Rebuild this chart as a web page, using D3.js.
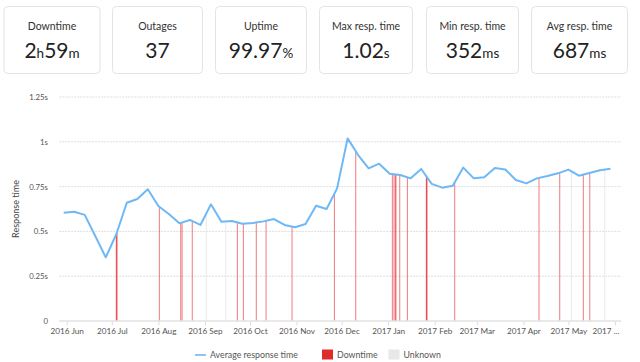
<!DOCTYPE html>
<html><head><meta charset="utf-8">
<script src="https://cdn.jsdelivr.net/npm/d3@7"></script>
<style>
html,body{margin:0;padding:0;background:#fff;}
svg{display:block;font-family:Lato,"Open Sans",sans-serif;}
</style></head>
<body>
<svg id="chart" width="640" height="362"></svg>
<script>
// ---- data ----
const statTitles = ["Downtime","Outages","Uptime","Max resp. time","Min resp. time","Avg resp. time"];
const statValues = [[["2","b"],["h","s"],["59","b"],["m","s"]],[["37","b"]],[["99.97","b"],["%","s"]],[["1.02","b"],["s","s"]],[["352","b"],["ms","s"]],[["687","b"],["ms","s"]]];

const weeks = ["2016-05-30","2016-06-06","2016-06-13","2016-06-20","2016-06-27","2016-07-04","2016-07-11","2016-07-18","2016-07-25",
"2016-08-01","2016-08-08","2016-08-15","2016-08-22","2016-08-29","2016-09-05","2016-09-12","2016-09-19","2016-09-26",
"2016-10-03","2016-10-10","2016-10-17","2016-10-24","2016-10-31","2016-11-07","2016-11-14","2016-11-21","2016-11-28",
"2016-12-05","2016-12-12","2016-12-19","2016-12-26","2017-01-02","2017-01-09","2017-01-16","2017-01-23","2017-01-30",
"2017-02-06","2017-02-13","2017-02-20","2017-02-27","2017-03-06","2017-03-13","2017-03-20","2017-03-27",
"2017-04-03","2017-04-10","2017-04-17","2017-04-24","2017-05-01","2017-05-08","2017-05-15","2017-05-22","2017-05-29"];
const avgResponse = [0.604,0.610,0.592,0.474,0.355,0.484,0.660,0.681,0.735,0.642,0.597,0.545,0.564,0.536,
0.651,0.554,0.558,0.543,0.547,0.556,0.569,0.536,0.523,0.541,0.643,0.625,0.740,
1.019,0.926,0.852,0.878,0.822,0.815,0.796,0.848,0.765,0.744,0.755,0.856,0.796,
0.802,0.854,0.845,0.787,0.768,0.796,0.809,0.824,0.845,0.811,0.826,0.841,0.850];

const downtimeEvents = ["2016-07-04T00:00","2016-07-04T06:00","2016-07-04T12:00","2016-08-01T16:00","2016-08-15T22:00",
"2016-08-16T19:00","2016-08-23T14:00","2016-09-22T14:00","2016-09-26T14:00","2016-10-05T05:00","2016-10-11T17:00",
"2016-10-29T00:00","2016-11-26T05:00","2016-12-10T10:00","2017-01-03T19:00","2017-01-04T22:00","2017-01-06T00:00",
"2017-01-06T02:00","2017-01-08T17:00","2017-01-13T19:00","2017-01-26T10:00","2017-01-26T12:00","2017-01-26T22:00",
"2017-02-14T07:00","2017-04-11T10:00","2017-04-25T05:00","2017-05-10T22:00","2017-05-15T05:00"];
const unknownEvents = ["2016-09-01T22:00","2016-09-14T22:00","2017-05-03T00:00","2017-05-25T05:00"];

const yTicks = [0,0.25,0.5,0.75,1,1.25];
const yTickLabels = ["0","0.25s","0.5s","0.75s","1s","1.25s"];
const legendLabels = ["Average response time","Downtime","Unknown"];

// ---- drawing ----
const svg = d3.select("#chart");
const pDay = d3.timeParse("%Y-%m-%d"), pTime = d3.timeParse("%Y-%m-%dT%H:%M");
const series = weeks.map((w,i)=>({date:pDay(w), v:avgResponse[i]}));

// stat cards
const cardX = [3.5,112,215,319,426,531], cardW = [96,90,91,93,92,96];
const cards = svg.append("g");
statTitles.forEach((t,i)=>{
  const g = cards.append("g").attr("transform",`translate(${cardX[i]},6)`);
  g.append("rect").attr("x",0.5).attr("y",0.5).attr("width",cardW[i]).attr("height",67).attr("rx",4)
   .attr("fill","#fff").attr("stroke","#e4e4e4");
  g.append("text").attr("x",cardW[i]/2+0.5).attr("y",24).attr("text-anchor","middle")
   .attr("font-size",10.5).attr("fill","#333").text(t);
  const tx = g.append("text").attr("x",cardW[i]/2+0.5).attr("y",51.5).attr("text-anchor","middle").attr("fill","#222");
  statValues[i].forEach(([s,k])=>{
    tx.append("tspan").attr("font-size",k==="b"?21:13.5).text(s);
  });
});

const x = d3.scaleTime().domain([pDay("2016-05-27"),pDay("2017-06-05")]).range([59.2,621]);
const y = d3.scaleLinear().domain([0,1.25]).range([321,97]);

// gridlines
const grid = svg.append("g");
yTicks.forEach(t=>{
  if(t===0) return;
  grid.append("line").attr("x1",59.2).attr("x2",621).attr("y1",y(t)).attr("y2",y(t))
    .attr("stroke","#dedede").attr("stroke-width",1).attr("stroke-dasharray","2,1");
});

// interpolation of the line at a date
const bis = d3.bisector(d=>d.date).left;
function valAt(d){
  let i = bis(series,d);
  if(i<=0) return series[0].v;
  if(i>=series.length) return series[series.length-1].v;
  const a=series[i-1], b=series[i];
  const t=(d-a.date)/(b.date-a.date);
  return a.v+(b.v-a.v)*t;
}

// unknown
svg.append("g").selectAll("rect").data(unknownEvents.map(pTime)).join("rect")
  .attr("x",d=>x(d)-0.5).attr("width",1).attr("y",d=>y(valAt(d))).attr("height",d=>y(0)-y(valAt(d)))
  .attr("fill","#e9e9e9");
// downtime
svg.append("g").selectAll("rect").data(downtimeEvents.map(pTime)).join("rect")
  .attr("x",d=>x(d)-0.5).attr("width",1).attr("y",d=>y(valAt(d))).attr("height",d=>y(0)-y(valAt(d)))
  .attr("fill","#e8343a").attr("fill-opacity",0.65);

// baseline
svg.append("line").attr("x1",59.2).attr("x2",621).attr("y1",y(0)).attr("y2",y(0))
  .attr("stroke","#e2e2e2").attr("stroke-width",1.5);

// line
svg.append("path").datum(series)
  .attr("d",d3.line().x(d=>x(d.date)).y(d=>y(d.v)))
  .attr("fill","none").attr("stroke","#6fb8f6").attr("stroke-width",2).attr("stroke-linejoin","round");

// y axis labels
const yAx = svg.append("g").attr("transform","translate(48,0)")
  .call(d3.axisLeft(y).tickValues(yTicks).tickSize(0).tickPadding(0).tickFormat((d,i)=>yTickLabels[i]));
yAx.select(".domain").remove();
yAx.selectAll("text").attr("font-family","Lato,sans-serif").attr("font-size",7.8).attr("fill","#555");

svg.append("text").attr("transform","translate(19,209) rotate(-90)").attr("text-anchor","middle")
  .attr("font-size",9).attr("fill","#444").text("Response time");

// x axis
const months = d3.timeMonth.range(pDay("2016-06-01"),pDay("2017-06-02"));
const fmt = d3.timeFormat("%Y %b");
const xAx = svg.append("g").attr("transform",`translate(0,${y(0)+0.75})`)
  .call(d3.axisBottom(x).tickValues(months).tickSize(3.5).tickPadding(3)
    .tickFormat((d,i)=> i===months.length-1 ? d3.timeFormat("%Y")(d)+" ..." : fmt(d)));
xAx.select(".domain").remove();
xAx.selectAll("line").attr("stroke","#dcdcdc");
xAx.selectAll("text").attr("font-family","Lato,sans-serif").attr("font-size",8.2).attr("fill","#555");
xAx.selectAll(".tick").filter((d,i)=>i===months.length-1).select("text").attr("text-anchor","end").attr("dx",4);

// legend
const lg = svg.append("g").attr("font-size",8.8).attr("fill","#555");
lg.append("line").attr("x1",195).attr("x2",206).attr("y1",355).attr("y2",355).attr("stroke","#6fb8f6").attr("stroke-width",1.6);
lg.append("text").attr("x",210).attr("y",358.2).text(legendLabels[0]);
lg.append("rect").attr("x",322).attr("y",349.5).attr("width",11).attr("height",10).attr("fill","#e02b2b");
lg.append("text").attr("x",337).attr("y",358.2).text(legendLabels[1]);
lg.append("rect").attr("x",388.5).attr("y",349.5).attr("width",11).attr("height",10).attr("fill","#e8e8e8");
lg.append("text").attr("x",403.5).attr("y",358.2).text(legendLabels[2]);
</script>
</body></html>
